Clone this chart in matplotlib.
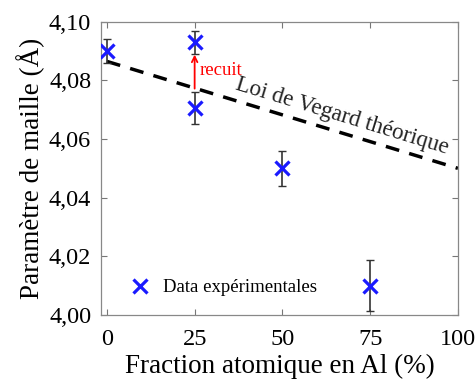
import numpy as np
import matplotlib.pyplot as plt
from matplotlib.ticker import FuncFormatter

plt.rcParams['font.family'] = ['Liberation Serif', 'DejaVu Serif']
plt.rcParams['mathtext.fontset'] = 'stix'

# experimental data
frac_al = [0, 25, 25, 50, 75]
lattice = [4.090, 4.093, 4.0705, 4.050, 4.010]
lattice_err = [0.004, 0.004, 0.0055, 0.006, 0.0087]

# theoretical Vegard law (Ag -> Al)
vegard_x = [0, 100]
vegard_y = [4.0865, 4.050]

xticks = [0, 25, 50, 75, 100]
yticks = [4.00, 4.02, 4.04, 4.06, 4.08, 4.10]

fig = plt.figure(figsize=(4.76, 3.83), dpi=100)
ax = fig.add_axes([0.212, 0.178, 0.750, 0.765])

ax.set_xlim(-1.7, 100)
ax.set_ylim(4.00, 4.10)

ax.plot(vegard_x, vegard_y, color='black', ls=(0, (4, 3)), lw=2.5, zorder=2)
ax.errorbar(frac_al, lattice, yerr=lattice_err, fmt='none', ecolor='#333333',
            elinewidth=1.2, capsize=3, capthick=1.0, zorder=3)
ax.plot(frac_al, lattice, ls='none', marker='x', ms=10, mew=2.3,
        color='#1a1aff', zorder=4, label='Data expérimentales')

# annealing arrow
ax.annotate('', xy=(25, 4.0888), xytext=(25, 4.0772),
            arrowprops=dict(arrowstyle='->', color='red', lw=1.3, shrinkA=0, shrinkB=0))
ax.text(26.3, 4.0835, 'recuit', color='red', fontsize=13.5, va='center', ha='left')

# label along the Vegard line
p0 = ax.transData.transform((0, vegard_y[0]))
p1 = ax.transData.transform((100, vegard_y[1]))
ang = np.degrees(np.arctan2(p1[1] - p0[1], p1[0] - p0[0]))
ax.text(67, 4.0678, 'Loi de Vegard théorique', fontsize=16.5, rotation=ang,
        rotation_mode='anchor', ha='center', va='center', color='#222222')

ax.set_xticks(xticks)
ax.set_yticks(yticks)
ax.yaxis.set_major_formatter(FuncFormatter(lambda v, p: f'{v:.2f}'.replace('.', ',')))
ax.tick_params(direction='in', top=True, right=True, length=4, width=0.8,
               color='#777777', labelsize=17.5)
ax.tick_params(axis='x', pad=10)
ax.tick_params(axis='y', pad=7)
for s in ax.spines.values():
    s.set_color('#888888')
    s.set_linewidth(0.9)

ax.set_xlabel('Fraction atomique en Al (%)', fontsize=19.5, labelpad=3)
ax.set_ylabel('Paramètre de maille (Å)', fontsize=19.5, labelpad=3)

ax.legend(loc='lower left', frameon=False, fontsize=13.5, handletextpad=0.1,
          handlelength=2.2, borderaxespad=0.6, bbox_to_anchor=(0.0, 0.0))

fig.savefig('out.png', dpi=100)
